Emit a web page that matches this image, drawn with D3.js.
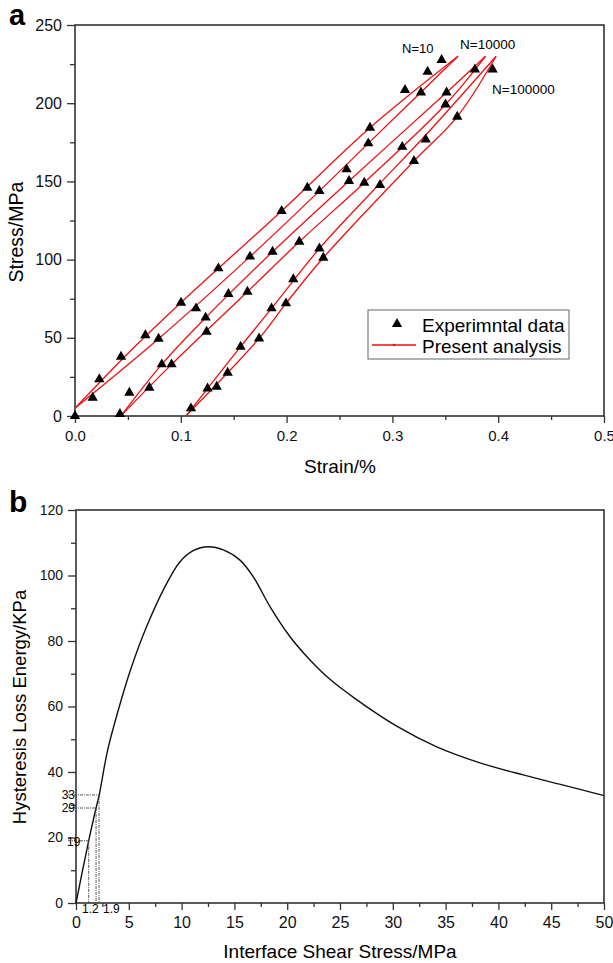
<!DOCTYPE html>
<html>
<head>
<meta charset="utf-8">
<script src="https://cdnjs.cloudflare.com/ajax/libs/d3/7.8.5/d3.min.js"></script>
<style>
  body { margin: 0; background: #fff; }
  svg { font-family: Arial, "Liberation Sans", sans-serif; }
</style>
</head>
<body>
<div id="chart"></div>
<script>
// ---- panel a: experimental points (strain %, stress MPa)
const expStrain = [0, 0.023, 0.0167, 0.0435, 0.0514, 0.0665, 0.079, 0.0703, 0.082, 0.0913,
  0.0425, 0.1002, 0.1144, 0.1235, 0.1244, 0.1355, 0.145, 0.163, 0.1654, 0.1867,
  0.212, 0.2063, 0.1994, 0.1858, 0.174, 0.1565, 0.1443, 0.1339, 0.1253, 0.1096,
  0.231, 0.2347, 0.3465, 0.3333, 0.3119, 0.327, 0.378, 0.3947, 0.3512, 0.3502,
  0.3613, 0.2788, 0.2772, 0.3315, 0.3093, 0.3204, 0.2567, 0.259, 0.2734, 0.2883,
  0.2196, 0.231, 0.1953];
const expStress = [0, 23.5, 11.7, 37.9, 14.9, 51.6, 49.4, 18.1, 33.0, 33.0,
  1.3, 72.4, 68.8, 62.9, 53.9, 94.4, 78.0, 79.5, 101.9, 105.0,
  111.4, 87.4, 72.0, 68.8, 49.6, 44.3, 27.7, 18.7, 17.6, 4.9,
  107.1, 101.2, 227.6, 220.1, 208.4, 206.9, 221.6, 221.6, 206.9, 199.2,
  191.4, 184.3, 174.3, 176.8, 172.1, 163.0, 157.7, 150.3, 149.2, 147.7,
  146.0, 143.9, 131.1];

// ---- panel a: analysis curves, two branches per loop [strain, stress]
const n10Upper = [[0, 5], [0.05, 40], [0.1, 72.4], [0.1953, 131.1], [0.2788, 184.3], [0.362, 230]];
const n10Lower = [[0, 5], [0.079, 49.4], [0.1654, 101.9], [0.231, 143.9], [0.2772, 174.3], [0.362, 230]];
const n1e4Upper = [[0.044, 0.5], [0.082, 33], [0.1235, 62.9], [0.1867, 105], [0.259, 150.3], [0.3512, 206.9], [0.388, 230]];
const n1e4Lower = [[0.044, 0.5], [0.0913, 33], [0.163, 79.5], [0.212, 111.4], [0.2734, 149.2], [0.3502, 199.2], [0.388, 230]];
const n1e5Upper = [[0.1055, 0.5], [0.1565, 44.3], [0.1858, 68.8], [0.231, 107.1], [0.283, 145], [0.332, 180], [0.398, 230]];
const n1e5Lower = [[0.1055, 0.5], [0.174, 49.6], [0.1994, 72], [0.2347, 101.2], [0.3204, 163], [0.3613, 191.4], [0.398, 230]];
const loops = [n10Upper, n10Lower, n1e4Upper, n1e4Lower, n1e5Upper, n1e5Lower];

const strainTicks = [0, 0.1, 0.2, 0.3, 0.4, 0.5];
const stressTicks = [0, 50, 100, 150, 200, 250];

// ---- panel b: hysteresis loss energy vs interface shear stress
const shearStress = [0, 1.2, 1.9, 2.2, 3.0, 4.33, 5.27, 6.69, 8.43, 9.85, 11.1, 12.53, 13.95,
  15.53, 16.79, 18.37, 20.27, 22.16, 24.05, 26.4, 30.37, 34.16, 38.26, 42.36, 46.15, 50];
const lossEnergy = [0, 19, 29, 33, 46.7, 62.5, 72.2, 84.4, 96.6, 104.2, 107.6, 108.8, 107.8,
  104.7, 99.6, 90.5, 81.3, 74.2, 68.3, 62.5, 54.0, 47.7, 42.8, 39.1, 36.0, 32.8];
const markEnergy = [19, 29, 33];
const markShear = [1.2, 1.9, 2.18];

const shearTicks = d3.range(0, 51, 5);
const energyTicks = d3.range(0, 121, 20);

const svg = d3.select('#chart').append('svg')
  .attr('width', 613)
  .attr('height', 963);

const axisColor = '#333';

function drawAxes(x, y, xMajor, xMinor, yMajor, yMinor, xFmt, xFont, yFont, xTick) {
  const [x0, x1] = x.range();
  const [y0, y1] = y.range();

  svg.append('g').attr('transform', `translate(0,${y0})`)
    .call(d3.axisBottom(x).tickValues(xMinor).tickSize(4).tickFormat(''))
    .call(g => g.select('.domain').remove());
  svg.append('g').attr('transform', `translate(0,${y0})`)
    .call(d3.axisBottom(x).tickValues(xMajor).tickSize(xTick).tickPadding(14 - xTick).tickFormat(xFmt))
    .call(g => g.select('.domain').remove())
    .call(g => g.selectAll('text').attr('font-size', xFont).attr('fill', '#111'));

  svg.append('g').attr('transform', `translate(${x0},0)`)
    .call(d3.axisLeft(y).tickValues(yMinor).tickSize(5).tickFormat(''))
    .call(g => g.select('.domain').remove());
  svg.append('g').attr('transform', `translate(${x0},0)`)
    .call(d3.axisLeft(y).tickValues(yMajor).tickSize(8).tickPadding(5))
    .call(g => g.select('.domain').remove())
    .call(g => g.selectAll('text').attr('font-size', yFont).attr('fill', '#111'));

  svg.selectAll('.tick line').attr('stroke', axisColor).attr('stroke-width', 1.3);

  svg.append('rect')
    .attr('x', x0).attr('y', y1)
    .attr('width', x1 - x0).attr('height', y0 - y1)
    .attr('fill', 'none')
    .attr('stroke', axisColor)
    .attr('stroke-width', 1.6);
}

// ================= panel a =================
const xA = d3.scaleLinear().domain([0, 0.5]).range([75, 604]);
const yA = d3.scaleLinear().domain([0, 250]).range([416, 25]);

drawAxes(xA, yA, strainTicks, d3.range(0.05, 0.5, 0.1), stressTicks, d3.range(25, 250, 50),
  d3.format('.1f'), 15, 16, 7);

const loopLine = d3.line()
  .x(d => xA(d[0]))
  .y(d => yA(d[1]))
  .curve(d3.curveCatmullRom);

svg.append('g').selectAll('path')
  .data(loops)
  .join('path')
  .attr('d', loopLine)
  .attr('fill', 'none')
  .attr('stroke', '#f01010')
  .attr('stroke-width', 1.3);

const tri = d3.symbol(d3.symbolTriangle, 46);
svg.append('g').selectAll('path')
  .data(expStrain)
  .join('path')
  .attr('d', tri)
  .attr('transform', (d, i) => `translate(${xA(d)},${yA(expStress[i])})`)
  .attr('fill', '#000');

svg.append('text').attr('x', 402).attr('y', 53).attr('font-size', 13).text('N=10');
svg.append('text').attr('x', 460).attr('y', 49).attr('font-size', 13.5).text('N=10000');
svg.append('text').attr('x', 492).attr('y', 94).attr('font-size', 13.5).text('N=100000');

// legend
const leg = svg.append('g');
leg.append('rect').attr('x', 368).attr('y', 310).attr('width', 201).attr('height', 49)
  .attr('fill', '#fff').attr('stroke', '#666').attr('stroke-width', 1);
leg.append('path').attr('d', tri).attr('transform', 'translate(397,324)').attr('fill', '#000');
leg.append('line').attr('x1', 372).attr('x2', 416).attr('y1', 345).attr('y2', 345)
  .attr('stroke', '#f01010').attr('stroke-width', 1.3);
leg.append('circle').attr('cx', 394).attr('cy', 345).attr('r', 1.3).attr('fill', '#f01010');
leg.append('text').attr('x', 422).attr('y', 332).attr('font-size', 19).text('Experimntal data');
leg.append('text').attr('x', 422).attr('y', 353).attr('font-size', 19).text('Present analysis');

svg.append('text').attr('x', 340).attr('y', 473).attr('text-anchor', 'middle')
  .attr('font-size', 19).text('Strain/%');
svg.append('text').attr('transform', 'translate(23,232) rotate(-90)').attr('text-anchor', 'middle')
  .attr('font-size', 19.5).text('Stress/MPa');
svg.append('text').attr('x', 9).attr('y', 25).attr('font-size', 29).attr('font-weight', 'bold').text('a');

// ================= panel b =================
const xB = d3.scaleLinear().domain([0, 50]).range([76, 604]);
const yB = d3.scaleLinear().domain([0, 120]).range([903, 510]);

drawAxes(xB, yB, shearTicks, d3.range(2.5, 50, 5), energyTicks, d3.range(10, 120, 20),
  d3.format('d'), 16, 14, 7);

const energyLine = d3.line()
  .x((d, i) => xB(d))
  .y((d, i) => yB(lossEnergy[i]))
  .curve(d3.curveCatmullRom.alpha(0.5));

svg.append('path')
  .attr('d', energyLine(shearStress))
  .attr('fill', 'none')
  .attr('stroke', '#111')
  .attr('stroke-width', 1.4);

// reference lines to the marked points
const refs = svg.append('g')
  .attr('stroke', '#444')
  .attr('stroke-width', 0.9)
  .attr('stroke-dasharray', '3,1,1,1');
refs.selectAll('.h').data(markEnergy).join('line')
  .attr('x1', xB(0) - 8).attr('x2', (d, i) => xB(markShear[i]))
  .attr('y1', d => yB(d)).attr('y2', d => yB(d));
refs.selectAll('.v').data(markShear).join('line')
  .attr('x1', d => xB(d)).attr('x2', d => xB(d))
  .attr('y1', (d, i) => yB(markEnergy[i])).attr('y2', yB(0));

svg.append('text').attr('x', 75).attr('y', yB(33) + 4).attr('text-anchor', 'end')
  .attr('font-size', 12).text('33');
svg.append('text').attr('x', 75).attr('y', yB(29) + 4).attr('text-anchor', 'end')
  .attr('font-size', 12).text('29');
svg.append('text').attr('x', 67).attr('y', yB(19) + 5).attr('font-size', 12).text('19');
svg.append('text').attr('x', 82).attr('y', 913).attr('font-size', 12).text('1.2');
svg.append('text').attr('x', 103).attr('y', 913).attr('font-size', 12).text('1.9');

svg.append('text').attr('x', 340).attr('y', 958).attr('text-anchor', 'middle')
  .attr('font-size', 19).text('Interface Shear Stress/MPa');
svg.append('text').attr('transform', 'translate(26,707) rotate(-90)').attr('text-anchor', 'middle')
  .attr('font-size', 18.5).text('Hysteresis Loss Energy/KPa');
svg.append('text').attr('x', 9).attr('y', 512).attr('font-size', 30).attr('font-weight', 'bold').text('b');
</script>
</body>
</html>
